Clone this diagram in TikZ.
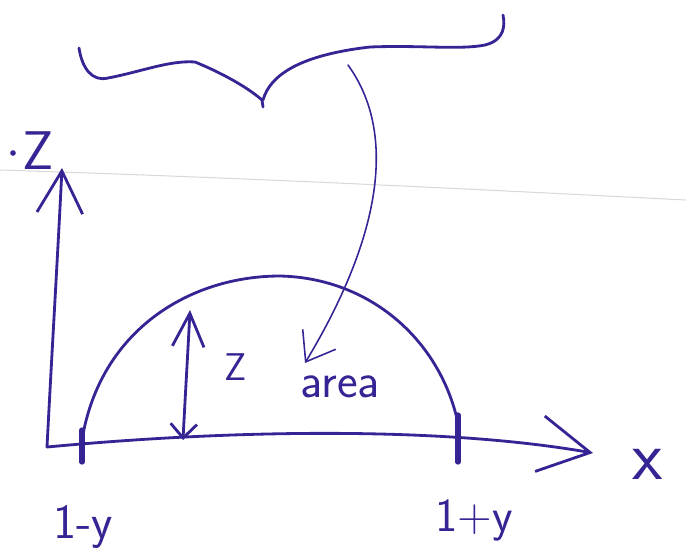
\documentclass[tikz,border=0pt]{standalone}
\usetikzlibrary{arrows.meta}
\definecolor{pen}{RGB}{52,36,148}

\begin{document}
\begin{tikzpicture}[x=0.02cm,y=-0.02cm,font=\sffamily,line cap=round,line join=round,
  ink/.style={draw=pen,line width=1.6pt},
  fine/.style={draw=pen,line width=0.9pt},
  tick/.style={draw=pen,line width=3pt},
  lbl/.style={text=pen,inner sep=0pt},
  big/.style={font=\sffamily\fontsize{#1}{#1}\selectfont}]
\useasboundingbox (0,0) rectangle (686,549);
% fold in the paper
\draw[black!15,line width=0.6pt] (0,170) .. controls (250,178) and (450,188) .. (686,200);
% points of the sketch
\coordinate (O) at (47,447);
\coordinate (ztop) at (62,168);
\coordinate (xend) at (593,453);
\coordinate (lo) at (82,440);
\coordinate (hi) at (458,423);
\coordinate (peak) at (280,276);
\coordinate (hbot) at (183,440);
\coordinate (htop) at (190,310);
\coordinate (bstart) at (348,65);
\coordinate (atip) at (305,363);
% axes
\draw[ink,-{Straight Barb[length=24pt,width=26pt]}] (O) .. controls (52,350) and (58,250) .. (ztop);
\draw[ink,-{Straight Barb[length=29pt,width=32pt]}] (O) .. controls (250,428) and (450,428) .. (xend);
\node[lbl,big=31] (zax) at (38,151) {Z};
\fill[pen] (13,153) circle (1.6pt);
\node[lbl,big=40] (xax) at (648,464) {x};
% ends of the interval
\draw[tick] (82,430) -- (82,462);
\draw[tick] (458,415) -- (458,462);
\node[lbl,big=28] (lminus) at (83,527) {1-y};
\node[lbl,big=27] (lplus) at (474,520) {1+y};
% the arch
\draw[ink] (lo) .. controls (100,330) and (190,276) .. (peak) .. controls (370,278) and (440,340) .. (hi);
% height z
\draw[ink,{Straight Barb[length=8pt,width=15pt]}-{Straight Barb[length=19pt,width=18pt]}] (hbot) .. controls (185,400) and (188,350) .. (htop);
\node[lbl,big=22] (zh) at (236,367) {Z};
% area and brace
\node[lbl,big=28] (area) at (340,387) {area};
\draw[fine,-{Straight Barb[length=15pt,width=22pt]}] (bstart) .. controls (395,130) and (385,230) .. (atip);
\draw[ink] (79,48) .. controls (82,68) and (92,82) .. (108,78) .. controls (140,72) and (170,60) .. (195,62)
  .. controls (215,70) and (245,85) .. (262,100) -- (263,107);
\draw[ink] (263,100) .. controls (270,75) and (300,55) .. (370,47) .. controls (420,45) and (460,50) .. (485,45)
  .. controls (505,40) and (505,25) .. (503,15);
\end{tikzpicture}
\end{document}
